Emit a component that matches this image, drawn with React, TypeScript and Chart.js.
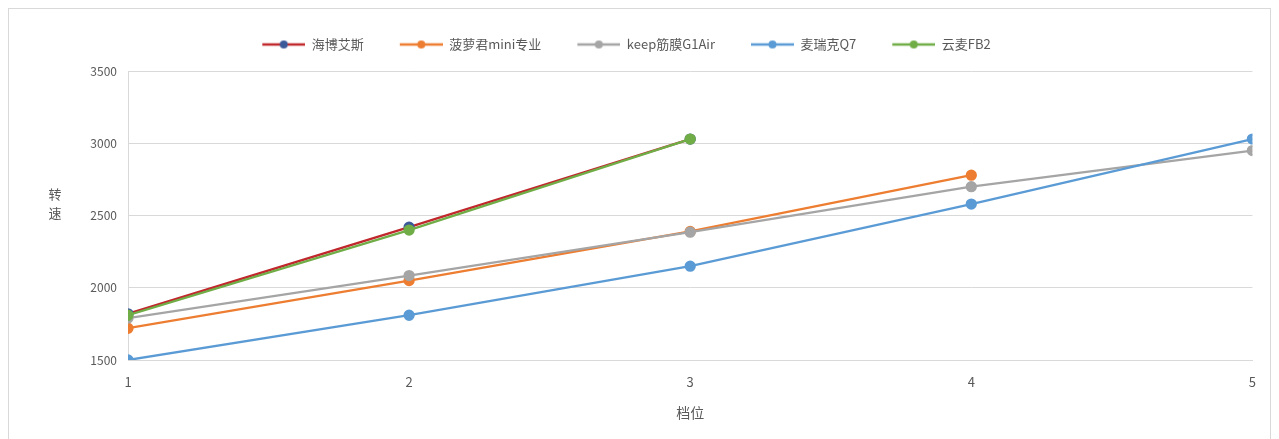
import React, { useEffect, useRef } from "react";
import { Chart, registerables } from "chart.js";

Chart.register(...registerables);

const gears = [1, 2, 3, 4, 5];
const seriesNames = ["海博艾斯", "菠萝君mini专业", "keep筋膜G1Air", "麦瑞克Q7", "云麦FB2"];
const hyperice = [1820, 2420, 3030];
const boluojun = [1720, 2050, 2390, 2780];
const keepG1 = [1790, 2085, 2385, 2700, 2950];
const merachQ7 = [1500, 1810, 2150, 2580, 3030];
const yunmai = [1810, 2400, 3030];
const yTicks = [1500, 2000, 2500, 3000, 3500];
const xTitle = "档位";
const yTitle = "转速";

const lineColors = ["#C0282D", "#ED7D31", "#A5A5A5", "#5B9BD5", "#70AD47"];
const markerColors = ["#3B5A9A", "#ED7D31", "#A5A5A5", "#5B9BD5", "#70AD47"];

const FONT = "'Noto Sans CJK SC', 'Noto Sans', sans-serif";
const TEXT = "#595959";
const ICON_W = 67;
const ICON_BLANK = 24;

function legendIcon(line: string, marker: string) {
  const c = document.createElement("canvas");
  c.width = ICON_W;
  c.height = 12;
  const g = c.getContext("2d")!;
  g.strokeStyle = line;
  g.lineWidth = 2.5;
  g.beginPath();
  g.moveTo(ICON_BLANK, 6);
  g.lineTo(ICON_W, 6);
  g.stroke();
  g.fillStyle = marker;
  g.beginPath();
  g.arc((ICON_BLANK + ICON_W) / 2, 6, 4, 0, Math.PI * 2);
  g.fill();
  return c;
}

export default function App() {
  const ref = useRef<HTMLCanvasElement>(null);
  useEffect(() => {
    const all = [hyperice, boluojun, keepG1, merachQ7, yunmai];
    const datasets = all.map((vals, i) => ({
      label: seriesNames[i],
      data: vals.map((v, j) => ({ x: gears[j], y: v })),
      borderColor: lineColors[i],
      backgroundColor: markerColors[i],
      pointBackgroundColor: markerColors[i],
      pointBorderColor: markerColors[i],
      borderWidth: 2.3,
      pointRadius: 4.5,
      pointHoverRadius: 4.5,
      order: 5 - i,
      tension: 0,
    }));
    const icons = all.map((_, i) => legendIcon(lineColors[i], markerColors[i]));
    const yTitlePlugin = {
      id: "yTitleStack",
      afterDraw(chart: any) {
        const ctx = chart.ctx;
        const a = chart.chartArea;
        const y = chart.scales.y;
        const base = y.getPixelForValue(2500);
        ctx.save();
        ctx.fillStyle = TEXT;
        ctx.font = `13px ${FONT}`;
        ctx.textAlign = "center";
        ctx.textBaseline = "middle";
        Array.from(yTitle).forEach((ch, k) => {
          ctx.fillText(ch, a.left - 73, base - 22 + k * 19);
        });
        ctx.restore();
      },
    };
    const chart = new Chart(ref.current!, {
      type: "line",
      data: { datasets },
      plugins: [yTitlePlugin],
      options: {
        animation: false,
        responsive: false,
        maintainAspectRatio: false,
        layout: { padding: { left: -42, right: 8, top: 17, bottom: 8 } },
        plugins: {
          tooltip: { enabled: false },
          title: {
            display: true,
            text: "",
            weight: 500,
            font: { size: 1 },
            padding: { top: 0, bottom: 9 },
          } as any,
          legend: {
            position: "top",
            align: "center",
            labels: {
              usePointStyle: true,
              pointStyleWidth: ICON_W,
              boxHeight: 12,
              padding: 12,
              color: TEXT,
              font: { family: FONT, size: 13 },
              generateLabels: () =>
                seriesNames.map((n, i) => ({
                  text: n,
                  pointStyle: icons[i],
                  fillStyle: markerColors[i],
                  strokeStyle: lineColors[i],
                  lineWidth: 0,
                  hidden: false,
                  datasetIndex: i,
                  fontColor: TEXT,
                })),
            },
          } as any,
        },
        scales: {
          x: {
            type: "linear",
            min: 1,
            max: 5,
            afterFit: (s: any) => {
              s.height = 71;
            },
            afterBuildTicks: (s: any) => {
              s.ticks = gears.map((v) => ({ value: v }));
            },
            ticks: { color: TEXT, font: { family: FONT, size: 13 }, padding: 14 },
            grid: { display: false, drawTicks: false },
            border: { display: true, color: "#D9D9D9", width: 1 },
            title: {
              display: true,
              text: xTitle,
              color: TEXT,
              font: { family: FONT, size: 14 },
              padding: { top: 4, bottom: 10 },
            },
          },
          y: {
            type: "linear",
            min: 1500,
            max: 3500,
            afterFit: (s: any) => {
              s.width = 161;
            },
            afterBuildTicks: (s: any) => {
              s.ticks = yTicks.map((v) => ({ value: v }));
            },
            ticks: {
              color: TEXT,
              font: { family: FONT, size: 12 },
              padding: 11,
              callback: (v: any) => String(v),
            },
            grid: { color: "#D9D9D9", lineWidth: 1, drawTicks: false },
            border: { display: true, color: "#D9D9D9", width: 1 },
          },
        },
      },
    });
    return () => chart.destroy();
  }, []);
  return (
    <div style={{ border: "1px solid #D9D9D9", width: 1261, height: 440, background: "#fff" }}>
      <canvas ref={ref} width={1261} height={430} style={{ display: "block" }} />
    </div>
  );
}
